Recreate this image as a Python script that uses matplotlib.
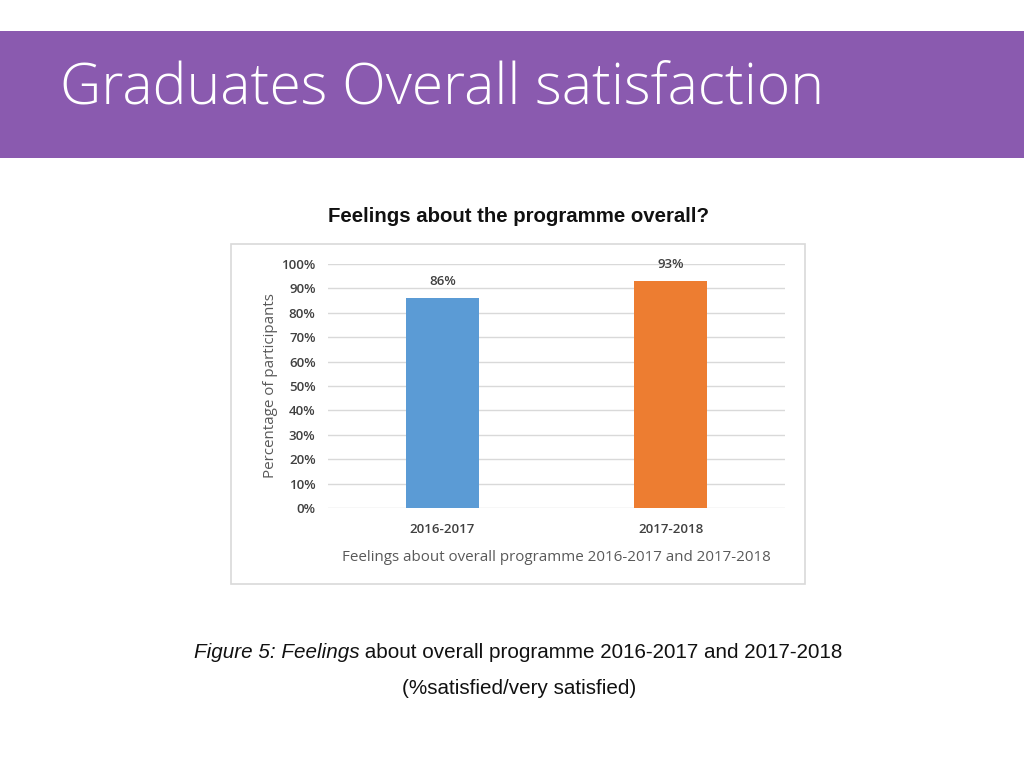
import matplotlib
matplotlib.use("Agg")
import matplotlib.pyplot as plt
from matplotlib.patches import Rectangle
from matplotlib.ticker import PercentFormatter

categories = ["2016-2017", "2017-2018"]
values = [86, 93]
bar_colors = ["#5B9BD5", "#ED7D31"]
yticks = [0, 10, 20, 30, 40, 50, 60, 70, 80, 90, 100]

W, H = 1024, 768
fig = plt.figure(figsize=(W / 100, H / 100), dpi=100)
fig.patch.set_facecolor("white")
renderer = fig.canvas.get_renderer()

# purple banner
fig.add_artist(Rectangle((0, 1 - 158 / H), 1, (158 - 31) / H, transform=fig.transFigure,
                         facecolor="#8A5AAF", edgecolor="none", zorder=0))
title = fig.text(60 / W, 1 - 104 / H, "Graduates Overall satisfaction", color="white",
                 fontsize=42, family="Open Sans", weight="light", va="baseline", ha="left")
tw = title.get_window_extent(renderer).width
title.set_fontsize(42 * 763 / tw)

# chart box
fig.add_artist(Rectangle((231 / W, 1 - 584 / H), (805 - 231) / W, (584 - 244) / H,
                         transform=fig.transFigure, facecolor="white",
                         edgecolor="#D9D9D9", lw=1.2, zorder=0))
fig.text(518 / W, 1 - 217 / H, "Feelings about the programme overall?", fontsize=14.7,
         weight="bold", family="Liberation Sans", ha="center", va="center", color="#111111")

ax = fig.add_axes([328 / W, 1 - 508 / H, (785 - 328) / W, (508 - 264) / H])
ax.set_facecolor("none")
x = range(len(categories))
bars = ax.bar(x, values, width=0.32, color=bar_colors, zorder=3)
ax.set_xlim(-0.5, 1.5)
ax.set_ylim(0, 100)
ax.set_yticks(yticks)
ax.yaxis.set_major_formatter(PercentFormatter(decimals=0))
ax.set_xticks(list(x))
ax.set_xticklabels(categories)
ax.grid(axis="y", color="#D9D9D9", lw=1, zorder=0)
for s in ax.spines.values():
    s.set_visible(False)
ax.tick_params(axis="y", length=0, labelsize=9.5, colors="#404040", pad=9)
ax.tick_params(axis="x", length=0, labelsize=9.5, colors="#404040", pad=11)
for lab in ax.get_xticklabels() + ax.get_yticklabels():
    lab.set_family("Open Sans")
    lab.set_weight("semibold")
for b, v in zip(bars, values):
    ax.text(b.get_x() + b.get_width() / 2, v + 4, f"{v}%", ha="center", va="bottom",
            fontsize=9.5, family="Open Sans", weight="semibold", color="#404040")
ax.set_ylabel("Percentage of participants", fontsize=10.9, family="Open Sans",
              color="#595959", labelpad=2)
ax.set_xlabel("Feelings about overall programme 2016-2017 and 2017-2018", fontsize=10.9,
              family="Open Sans", color="#595959", labelpad=10)

# caption with mixed italic
cap_fs = 14.9
parts = [("Figure 5: Feelings", "italic"), (" about overall programme 2016-2017 and 2017-2018", "normal")]
texts = []
for s, st in parts:
    t = fig.text(0, 1 - 652 / H, s, fontsize=cap_fs, family="Liberation Sans", style=st,
                 va="center", ha="left", color="#111111")
    texts.append(t)
widths = [t.get_window_extent(renderer).width for t in texts]
total = sum(widths)
start = 518 - total / 2
for t, w in zip(texts, widths):
    t.set_x(start / W)
    start += w
fig.text(519 / W, 1 - 689 / H, "(%satisfied/very satisfied)", fontsize=cap_fs,
         family="Liberation Sans", ha="center", va="center", color="#111111")

fig.savefig("out.png", dpi=100)
